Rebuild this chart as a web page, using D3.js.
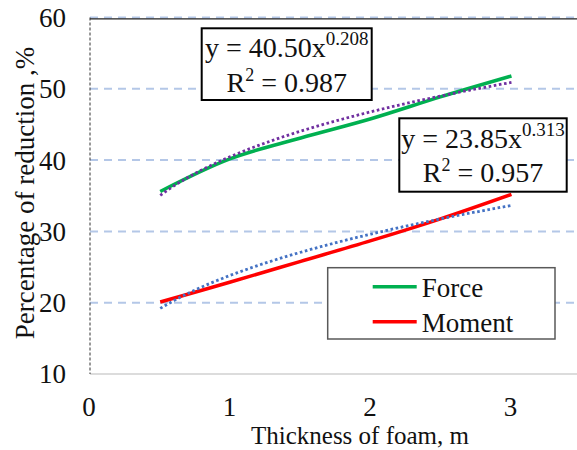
<!DOCTYPE html>
<html>
<head>
<meta charset="utf-8">
<script src="https://cdn.jsdelivr.net/npm/d3@7"></script>
<style>
  body{margin:0;background:#fff;}
  svg{display:block;}
  text{font-family:"Liberation Serif","Times New Roman",serif;fill:#111;}
</style>
</head>
<body>
<svg id="chart" width="577" height="450"></svg>
<script>
// data
const thickness = [0.5, 1, 1.5, 2, 2.5, 3];
const force = [35.6, 40.2, 43.1, 45.8, 48.9, 51.8];
const moment = [20.1, 22.9, 25.8, 28.7, 31.8, 35.2];
const seriesNames = ["Force", "Moment"];
const seriesColors = ["#00b050", "#ff0000"];
const trendColors = ["#7030a0", "#4472c4"];
// power trendlines y = a x^b as printed on the chart
const trendA = [40.50, 23.85];
const trendB = [0.208, 0.313];
const trendR2 = [0.987, 0.957];
const xTicks = [0, 1, 2, 3];
const yTicks = [10, 20, 30, 40, 50, 60];

const svg = d3.select("#chart");
const x = d3.scaleLinear().domain([0, 3.5]).range([90, 581.7]);
const y = d3.scaleLinear().domain([10, 60]).range([374, 17.5]);

// grid
svg.append("g").selectAll("line").data(yTicks.filter(d => d > 10)).join("line")
  .attr("x1", 90).attr("x2", 577).attr("y1", d => y(d)).attr("y2", d => y(d))
  .attr("stroke", "#b4c7e7").attr("stroke-width", 2).attr("stroke-dasharray", "8,6");

// top border
svg.append("line").attr("x1", 90).attr("x2", 577).attr("y1", 18.8).attr("y2", 18.8)
  .attr("stroke", "#222").attr("stroke-width", 1.3);
// bottom axis
svg.append("line").attr("x1", 90).attr("x2", 577).attr("y1", y(10)).attr("y2", y(10))
  .attr("stroke", "#d0d0d0").attr("stroke-width", 1.5);
// left axis
svg.append("line").attr("x1", 90).attr("x2", 90).attr("y1", 17.5).attr("y2", y(10))
  .attr("stroke", "#333").attr("stroke-width", 1).attr("stroke-dasharray", "3,2");

// tick labels
svg.append("g").selectAll("text").data(yTicks).join("text")
  .attr("x", 66).attr("y", d => y(d)).attr("dy", "0.35em")
  .attr("text-anchor", "end").attr("font-size", 27).text(d => d);
svg.append("g").selectAll("text").data(xTicks).join("text")
  .attr("x", d => x(d) - 1).attr("y", 416)
  .attr("text-anchor", "middle").attr("font-size", 27).text(d => d);

// axis titles
svg.append("text").attr("x", 360).attr("y", 444).attr("text-anchor", "middle")
  .attr("font-size", 25).text("Thickness of foam, m");
svg.append("text").attr("transform", "translate(34,193) rotate(-90)")
  .attr("text-anchor", "middle").attr("font-size", 27).text("Percentage of reduction ,%");

const series = [force, moment];
const line = d3.line().x(d => x(d[0])).y(d => y(d[1])).curve(d3.curveCatmullRom.alpha(0.5));

series.forEach((vals, i) => {
  svg.append("path").datum(thickness.map((t, j) => [t, vals[j]]))
    .attr("d", line).attr("fill", "none")
    .attr("stroke", seriesColors[i]).attr("stroke-width", 3.5);
});

// trendlines
const trendX = d3.range(0.5, 3.0001, 0.05);
trendA.forEach((a, i) => {
  svg.append("path").datum(trendX.map(t => [t, a * Math.pow(t, trendB[i])]))
    .attr("d", d3.line().x(d => x(d[0])).y(d => y(d[1])))
    .attr("fill", "none").attr("stroke", trendColors[i]).attr("stroke-width", 2.8)
    .attr("stroke-dasharray", "2.6,2.6");
});

// equation boxes
const boxes = [
  {x: 201.7, y: 28.3, w: 170, h: 71.7, b1: 56.5, b2: 91.5},
  {x: 399.3, y: 118.3, w: 167.4, h: 73.4, b1: 148, b2: 181.5}
];
boxes.forEach((b, i) => {
  svg.append("rect").attr("x", b.x).attr("y", b.y).attr("width", b.w).attr("height", b.h)
    .attr("fill", "#fff").attr("stroke", "#000").attr("stroke-width", 2);
  const cx = b.x + b.w / 2;
  const t1 = svg.append("text").attr("x", cx).attr("y", b.b1).attr("text-anchor", "middle").attr("font-size", 28);
  t1.append("tspan").text("y = " + trendA[i].toFixed(2) + "x");
  t1.append("tspan").attr("dy", -12).attr("font-size", 19).text(trendB[i].toFixed(3));
  const t2 = svg.append("text").attr("x", cx).attr("y", b.b2).attr("text-anchor", "middle").attr("font-size", 28);
  t2.append("tspan").text("R");
  t2.append("tspan").attr("dy", -11).attr("font-size", 18).text("2");
  t2.append("tspan").attr("dy", 11).text(" = " + trendR2[i].toFixed(3));
});

// legend
const lg = svg.append("g");
lg.append("rect").attr("x", 327.7).attr("y", 267.7).attr("width", 227.3).attr("height", 71.3)
  .attr("fill", "#fff").attr("stroke", "#595959").attr("stroke-width", 1.5);
seriesNames.forEach((n, i) => {
  const ly = 286.7 + i * 35;
  lg.append("line").attr("x1", 372.7).attr("x2", 416.7).attr("y1", ly).attr("y2", ly)
    .attr("stroke", seriesColors[i]).attr("stroke-width", 3.5);
  lg.append("text").attr("x", 421.7).attr("y", ly + 10).attr("font-size", 27).text(n);
});
</script>
</body>
</html>
